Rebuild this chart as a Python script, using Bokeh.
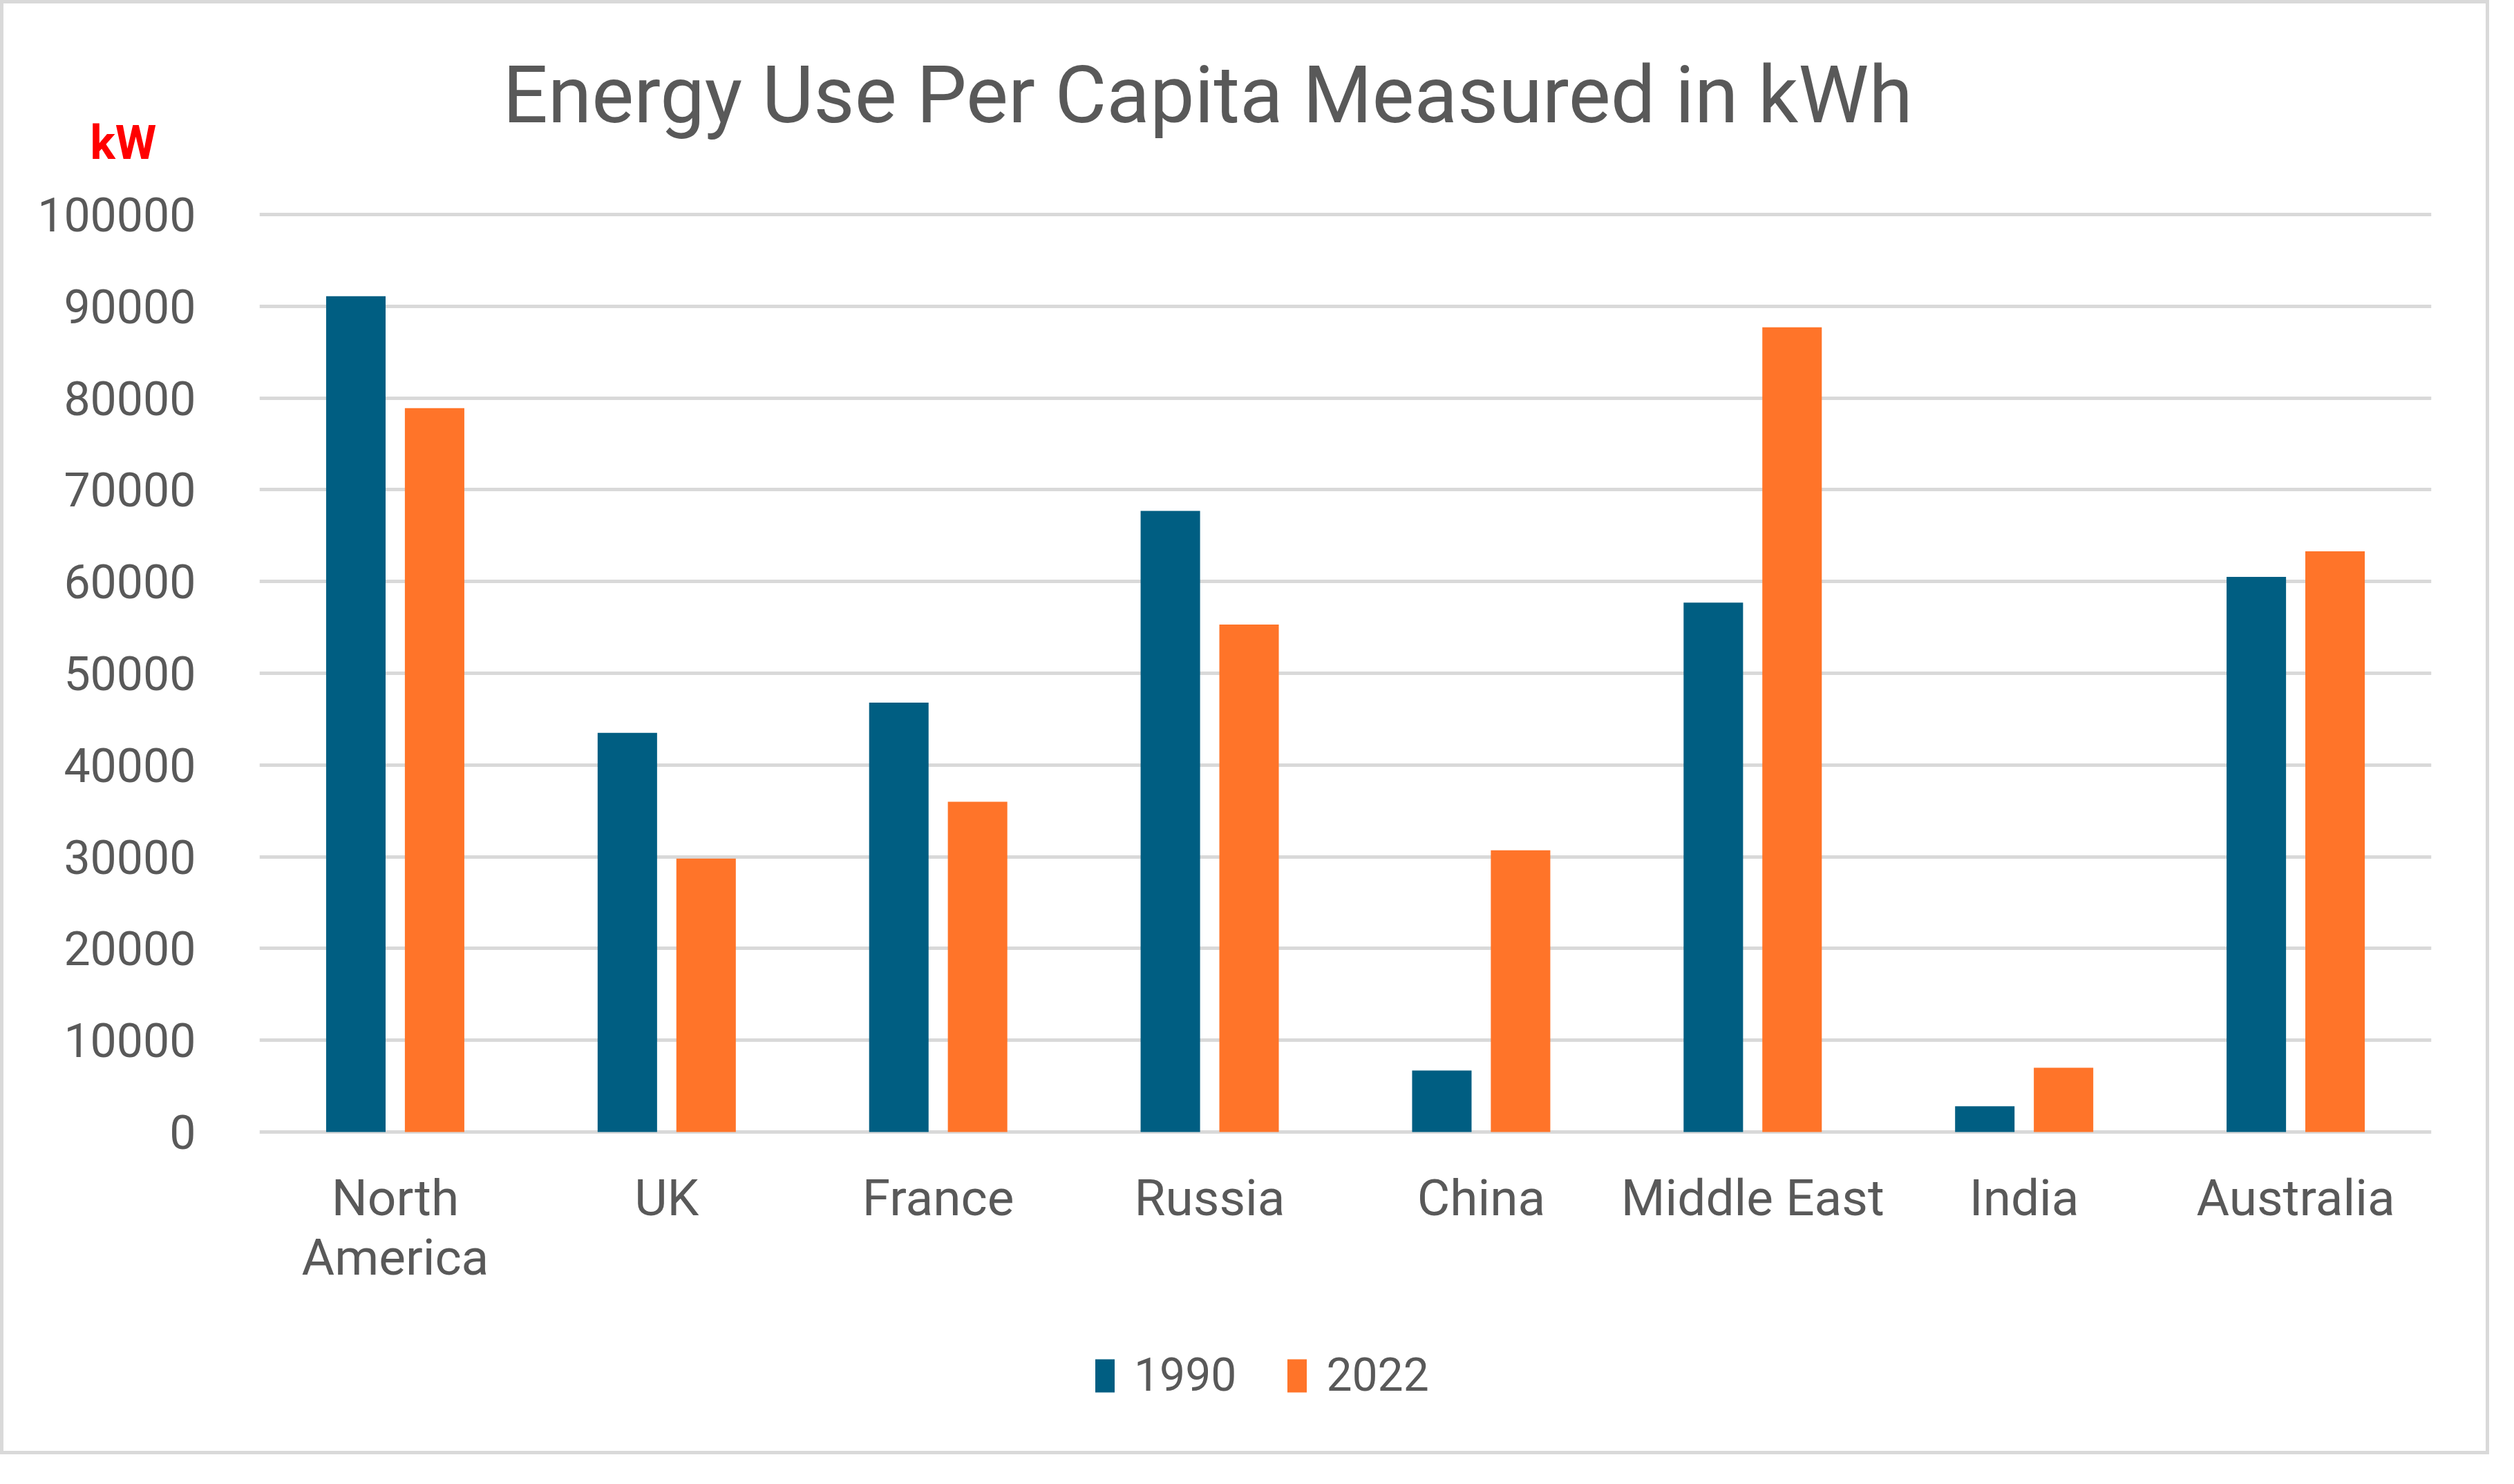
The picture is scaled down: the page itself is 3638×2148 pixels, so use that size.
from bokeh.plotting import figure
from bokeh.models import (FactorRange, Range1d, Legend, LegendItem, Title, FixedTicker,
                          NumeralTickFormatter, CustomJSTickFormatter, InlineStyleSheet)
from bokeh.transform import dodge
from bokeh.embed import file_html
from bokeh.resources import INLINE

categories = ["North America", "UK", "France", "Russia", "China", "Middle East", "India", "Australia"]
years = ["1990", "2022"]
values_1990 = [91100, 43500, 46800, 67700, 6700, 57700, 2800, 60500]
values_2022 = [78900, 29800, 36000, 55300, 30700, 87700, 7000, 63300]
y_ticks = [0, 10000, 20000, 30000, 40000, 50000, 60000, 70000, 80000, 90000, 100000]
title_text = "Energy Use Per Capita Measured in kWh"
unit_text = "kW"

FONT = "Roboto"
TXT = "#595959"
C1990 = "#005E82"
C2022 = "#FF7429"

css = InlineStyleSheet(css=":host { border: 5px solid #d9d9d9 !important; }")

# frame extends below the zero line so that the category labels and the legend sit inside it
p = figure(
    x_range=FactorRange(*categories, range_padding=0),
    y_range=Range1d(-34187, 100226),
    width=3602, height=2105, title=None,
    output_backend="svg", toolbar_location=None,
    min_border_left=370, min_border_right=89, min_border_top=302, min_border_bottom=18,
    stylesheets=[css],
)
p.border_fill_alpha = 0
p.background_fill_color = "white"
p.outline_line_color = None

src = dict(cat=categories, v1990=values_1990, v2022=values_2022)
r1 = p.vbar(x=dodge("cat", -0.145, range=p.x_range), top="v1990", bottom=0, width=0.219,
            source=src, fill_color=C1990, line_color=None)
r2 = p.vbar(x=dodge("cat", 0.145, range=p.x_range), top="v2022", bottom=0, width=0.219,
            source=src, fill_color=C2022, line_color=None)

p.xgrid.grid_line_color = None
p.ygrid.grid_line_color = "#d9d9d9"
p.ygrid.grid_line_width = 5
p.ygrid.ticker = FixedTicker(ticks=y_ticks)

yax = p.yaxis[0]
yax.ticker = FixedTicker(ticks=y_ticks)
yax.formatter = NumeralTickFormatter(format="0")
yax.axis_line_color = None
yax.major_tick_line_color = None
yax.minor_tick_line_color = None
yax.major_label_standoff = 86
yax.major_label_text_font = FONT
yax.major_label_text_font_size = "68px"
yax.major_label_text_color = TXT

xax = p.xaxis[0]
xax.fixed_location = 0
xax.axis_line_color = None
xax.major_tick_line_color = None
xax.minor_tick_line_color = None
xax.major_label_standoff = 47
xax.major_label_text_font = FONT
xax.major_label_text_font_size = "73px"
xax.major_label_text_color = TXT
xax.major_label_text_line_height = 1.0
xax.formatter = CustomJSTickFormatter(code="return tick.replace('North America', 'North\\nAmerica');")

kw_title = Title(text=unit_text, align="left", offset=-245, standoff=122,
                 text_font=FONT, text_font_size="68px", text_font_style="bold",
                 text_color="#FF0000")
main_title = Title(text=title_text, align="left", offset=352, standoff=-202,
                   text_font=FONT, text_font_size="115px", text_font_style="normal",
                   text_color=TXT)
p.add_layout(kw_title, "above")
p.add_layout(main_title, "above")

legend = Legend(items=[LegendItem(label=years[0], renderers=[r1]),
                       LegendItem(label=years[1], renderers=[r2])],
                orientation="horizontal", location=(1206, 63),
                glyph_width=35, glyph_height=60, label_standoff=25, spacing=70,
                padding=0, margin=0, border_line_color=None, background_fill_alpha=0,
                label_text_font=FONT, label_text_font_size="66px", label_text_color=TXT)
p.add_layout(legend, "center")

open("out.html", "w").write(file_html(p, INLINE))
